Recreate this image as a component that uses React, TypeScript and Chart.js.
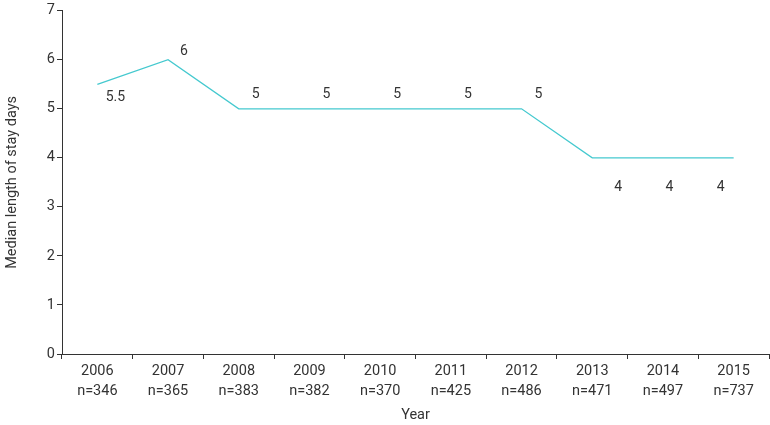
import React, { useEffect, useRef } from "react";
import { Chart, registerables } from "chart.js";

Chart.register(...registerables);

const years = ["2006", "2007", "2008", "2009", "2010", "2011", "2012", "2013", "2014", "2015"];
const counts = ["n=346", "n=365", "n=383", "n=382", "n=370", "n=425", "n=486", "n=471", "n=497", "n=737"];
const medianStay = [5.5, 6, 5, 5, 5, 5, 5, 4, 4, 4];
const valueLabels = ["5.5", "6", "5", "5", "5", "5", "5", "4", "4", "4"];

const FONT = "Roboto, 'DejaVu Sans', sans-serif";
const TEXT = "#333333";

const labelPlugin = {
  id: "valueLabels",
  afterDatasetsDraw(chart: any) {
    const ctx = chart.ctx;
    const meta = chart.getDatasetMeta(0);
    ctx.save();
    ctx.font = `14px ${FONT}`;
    ctx.fillStyle = TEXT;
    ctx.textAlign = "center";
    ctx.textBaseline = "middle";
    meta.data.forEach((pt: any, i: number) => {
      const v = medianStay[i];
      let dx = 17;
      let dy = -14;
      if (v === 5.5) { dx = 18; dy = 13; }
      else if (v === 6) { dx = 16; dy = -8; }
      else if (v === 4) { dx = 26 - (i - 7) * 19.5; dy = 30; }
      ctx.fillText(valueLabels[i], pt.x + dx, pt.y + dy);
    });
    ctx.restore();
  },
};

export default function App() {
  const ref = useRef<HTMLCanvasElement>(null);
  useEffect(() => {
    document.body.style.margin = "0";
    const chart = new Chart(ref.current!, {
      type: "line",
      data: {
        labels: years.map((y, i) => [y, counts[i]]),
        datasets: [
          {
            data: medianStay,
            borderColor: "#45c9cf",
            borderWidth: 1.3,
            pointRadius: 0,
            tension: 0,
            fill: false,
          },
        ],
      },
      options: {
        animation: false,
        responsive: false,
        maintainAspectRatio: false,
        layout: { padding: { top: 9, right: 1, left: 0, bottom: 0 } },
        plugins: { legend: { display: false }, tooltip: { enabled: false } },
        scales: {
          x: {
            offset: true,
            grid: { offset: true, drawOnChartArea: false, drawTicks: true, tickLength: 5, color: TEXT },
            border: { display: true, color: TEXT, width: 1 },
            ticks: { color: TEXT, font: { family: FONT, size: 14.5, lineHeight: 1.33 }, padding: 3, maxRotation: 0 },
            title: { display: true, text: "Year", color: TEXT, font: { family: FONT, size: 14.5 }, padding: { top: 6, bottom: 1 } },
            afterFit: (s: any) => { s.height = 71; },
          },
          y: {
            min: 0,
            max: 7,
            ticks: { stepSize: 1, color: TEXT, font: { family: FONT, size: 14.5 }, padding: 2 },
            grid: { drawOnChartArea: false, drawTicks: true, tickLength: 5, color: TEXT },
            border: { display: true, color: TEXT, width: 1 },
            title: { display: true, text: "Median length of stay days", color: TEXT, font: { family: FONT, size: 14.5 }, padding: { bottom: 4 } },
            afterFit: (s: any) => { s.width = 62; },
          },
        },
      },
      plugins: [labelPlugin],
    });
    return () => chart.destroy();
  }, []);
  return (
    <div style={{ width: 770, height: 425 }}>
      <canvas ref={ref} width={770} height={425} />
    </div>
  );
}
